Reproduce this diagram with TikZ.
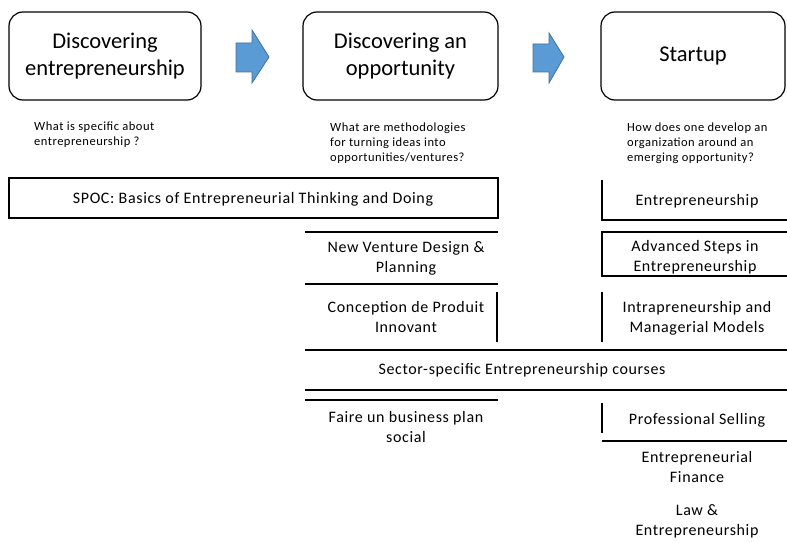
\documentclass[tikz,border=0pt]{standalone}
\usepackage{fontspec}
\setmainfont{Carlito}
\newfontfamily\widefont[LetterSpace=4]{Carlito}
\definecolor{arrowblue}{HTML}{5B9BD5}
\definecolor{arrowedge}{HTML}{41719C}

\begin{document}
\begin{tikzpicture}[x=1pt,y=-1pt]
\tikzset{titlebox/.style={draw, rounded corners=14pt, line width=1.2pt, align=center, inner sep=0pt, font=\fontsize{22.5}{27.5}\selectfont},
question/.style={anchor=west, align=left, inner sep=0pt, font=\widefont\fontsize{12.5}{15}\selectfont},
course/.style={align=center, inner sep=0pt, font=\widefont\fontsize{16}{20}\selectfont},
rule/.style={line width=1.5pt},
bluearrow/.style={fill=arrowblue, draw=arrowedge, line width=0.8pt}}
\useasboundingbox (0,0) rectangle (787,543);
% the three stages
\node[titlebox, minimum width=192pt, minimum height=88pt] (disc) at (105,56) {Discovering\\entrepreneurship};
\node[titlebox, minimum width=195pt, minimum height=88pt] (opp) at (400.5,56) {Discovering an\\opportunity};
\node[titlebox, minimum width=184pt, minimum height=88pt] (start) at (693,56) {Startup};
\filldraw[bluearrow] (236,43) -- (252,43) -- (252,30) -- (269,57) -- (252,83) -- (252,72) -- (236,72) -- cycle;
\filldraw[bluearrow] (533,44) -- (549,44) -- (549,33) -- (564,57) -- (549,83) -- (549,72) -- (533,72) -- cycle;
% questions
\node[question] (qdisc) at (34,135) {What is specific about\\entrepreneurship ?};
\node[question] (qopp) at (330,143) {What are methodologies\\for turning ideas into\\opportunities/ventures?};
\node[question] (qstart) at (627,143) {How does one develop an\\organization around an\\emerging opportunity?};
% courses
\node[course] (spoc) at (253,199) {SPOC: Basics of Entrepreneurial Thinking and Doing};
\node[course] (ent) at (697,201) {Entrepreneurship};
\node[course] (nvd) at (406,258) {New Venture Design \&\\Planning};
\node[course] (adv) at (695,257) {Advanced Steps in\\Entrepreneurship};
\node[course] (cpi) at (406,317) {Conception de Produit\\Innovant};
\node[course] (intra) at (697,318) {Intrapreneurship and\\Managerial Models};
\node[course] (sector) at (522,370) {Sector-specific Entrepreneurship courses};
\node[course] (faire) at (406,427) {Faire un business plan\\social};
\node[course] (prof) at (697,420) {Professional Selling};
\node[course] (fin) at (697,467) {Entrepreneurial\\Finance};
\node[course] (law) at (697,521) {Law \&\\Entrepreneurship};
% table borders
\draw[rule] (9,178) rectangle (498,218);
\draw[rule] (305,232) -- (498,232);
\draw[rule] (305,284) -- (498,284);
\draw[rule] (497,292) -- (497,342);
\draw[rule] (305,350) -- (787,350);
\draw[rule] (305,390) -- (787,390);
\draw[rule] (305,400) -- (498,400);
\draw[rule] (602,180) -- (602,220) -- (787,220);
\draw[rule] (787,232) -- (602,232) -- (602,276) -- (787,276);
\draw[rule] (602,292) -- (602,342);
\draw[rule] (602,403) -- (602,433);
\draw[rule] (602,441) -- (787,441);
\end{tikzpicture}
\end{document}
